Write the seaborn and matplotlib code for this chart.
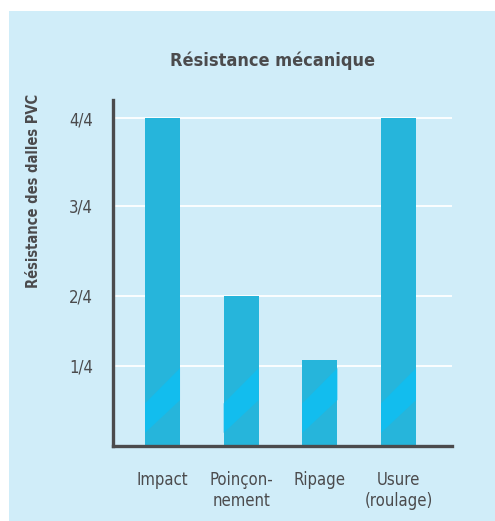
import matplotlib
matplotlib.use("Agg")
import matplotlib.pyplot as plt
import seaborn as sns
import pandas as pd
from matplotlib.patches import Polygon, Rectangle

categories = ["Impact", "Poinçon-\nnement", "Ripage", "Usure\n(roulage)"]
values = [4.0, 1.83, 1.05, 4.0]
tick_positions = [0.976, 1.83, 2.93, 4.0]
tick_labels = ["1/4", "2/4", "3/4", "4/4"]

df = pd.DataFrame({"critere": categories, "valeur": values})

sns.set_theme(style="white")
plt.rcParams['font.family'] = ['DejaVu Sans']
TXT = "#4b4b4d"

fig = plt.figure(figsize=(4.95, 5.21), dpi=100)
fig.patch.set_facecolor("white")
fig.patches.append(Rectangle((9 / 495, 0), 486 / 495, 510 / 521,
                             transform=fig.transFigure, facecolor="#d0edf9",
                             edgecolor="none", zorder=-10))

ax = fig.add_axes([112.5 / 495, 75 / 521, (452 - 112.5) / 495, 346 / 521])
ax.set_facecolor("none")
sns.barplot(data=df, x="critere", y="valeur", color="#26b5db", width=0.445,
            saturation=1, ax=ax, zorder=3, linewidth=0, edgecolor="none")

# decorative lighter diagonal band on each bar
for p in ax.patches:
    x0 = p.get_x()
    x1 = x0 + p.get_width()
    band = Polygon([(x0, 0.16), (x0, 0.52), (x1, 0.95), (x1, 0.56)],
                   closed=True, facecolor="#12bdee", edgecolor="none",
                   linewidth=0, zorder=4)
    ax.add_patch(band)

ax.set_xlim(-0.636, 3.68)
ax.set_ylim(0, 4.22)
ax.set_yticks(tick_positions)
ax.set_yticklabels(tick_labels)
ax.set_axisbelow(True)
ax.yaxis.grid(True, color="white", linewidth=1.3)
ax.xaxis.grid(False)

for s in ["top", "right"]:
    ax.spines[s].set_visible(False)
for s in ["left", "bottom"]:
    ax.spines[s].set_color(TXT)
    ax.spines[s].set_linewidth(2.4)
    ax.spines[s].set_zorder(6)

ax.tick_params(axis="y", length=0, pad=14, labelsize=12, labelcolor=TXT)
ax.tick_params(axis="x", length=0, pad=18, labelsize=12, labelcolor=TXT)
for lab in ax.get_xticklabels() + ax.get_yticklabels():
    lab.set_fontstretch("condensed")
ax.set_xlabel("")
ax.set_ylabel("")

fig.text(272 / 495, 1 - 61 / 521, "Résistance mécanique", ha="center", va="center",
         fontsize=13, fontweight="bold", color=TXT, fontstretch="condensed")
fig.text(34 / 495, 1 - 191 / 521, "Résistance des dalles PVC", ha="center", va="center",
         rotation=90, fontsize=10.5, fontweight="bold", color=TXT, fontstretch="condensed")

fig.savefig("out.png", dpi=100, facecolor=fig.get_facecolor())
